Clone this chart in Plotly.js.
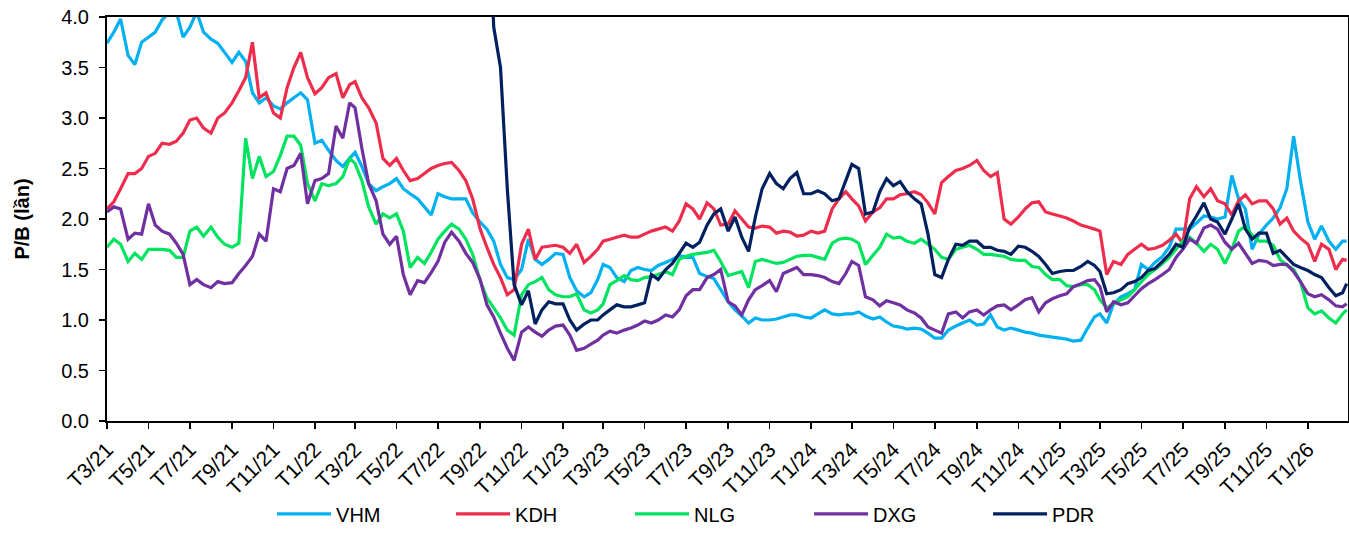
<!DOCTYPE html>
<html>
<head>
<meta charset="utf-8">
<script src="https://cdn.plot.ly/plotly-3.0.1.min.js"></script>
<style>html,body{margin:0;padding:0;background:#fff;}#chart{width:1349px;height:534px;}</style>
</head>
<body>
<div id="chart"></div>
<script>
// Sampling grid: days 1, 11, 21 of each month, Mar 2021 .. Feb 2026, plus last date
const sampleDays = [1, 11, 21];
const firstMonth = [2021, 3];
const lastMonth = [2026, 2];
const lastDate = '2026-02-27';

const tickLabels = ['T3/21','T5/21','T7/21','T9/21','T11/21','T1/22','T3/22','T5/22','T7/22','T9/22','T11/22',
  'T1/23','T3/23','T5/23','T7/23','T9/23','T11/23','T1/24','T3/24','T5/24','T7/24','T9/24','T11/24',
  'T1/25','T3/25','T5/25','T7/25','T9/25','T11/25','T1/26'];

const seriesNames = ['VHM', 'KDH', 'NLG', 'DXG', 'PDR'];
const seriesColors = ['#00B0F0', '#EE2D4D', '#00E35F', '#7030A0', '#002060'];

const VHM = [
  3.74,3.85,3.98, 3.62,3.53,3.75, 3.8,3.85,3.97, 4.05,4.05,3.8, 3.9,4.05,3.85, 3.78,3.74,3.65, 3.55,3.65,3.56, 3.25,3.15,3.2, 3.12,3.09,3.15, 3.2,3.25,3.18,
  2.75,2.78,2.68, 2.58,2.52,2.6, 2.66,2.52,2.35, 2.28,2.32,2.35, 2.4,2.3,2.25, 2.2,2.12,2.04, 2.25,2.22,2.2, 2.2,2.2,2.06, 1.97,1.9,1.78, 1.55,1.42,1.4, 1.5,1.8,1.6, 1.55,1.6,1.66,
  1.65,1.42,1.29, 1.23,1.27,1.4, 1.55,1.52,1.42, 1.38,1.49,1.52, 1.5,1.49,1.54, 1.57,1.6,1.64, 1.62,1.62,1.46, 1.43,1.41,1.3, 1.18,1.1,1.04, 0.97,1.02,1.0, 1.0,1.01,1.03, 1.05,1.05,1.03,
  1.02,1.06,1.1, 1.06,1.05,1.06, 1.06,1.08,1.04, 1.01,1.03,0.98, 0.94,0.93,0.91, 0.92,0.91,0.87, 0.82,0.82,0.9, 0.94,0.97,1.0, 0.95,0.96,1.05, 0.93,0.9,0.92, 0.9,0.88,0.87, 0.85,0.84,0.83,
  0.82,0.81,0.79, 0.8,0.92,1.03, 1.06,0.97,1.16, 1.23,1.26,1.3, 1.55,1.5,1.57, 1.63,1.72,1.9, 1.9,1.9,1.96, 2.03,2.02,2.0, 2.02,2.43,2.2, 2.1,1.7,1.85, 1.94,2.01,2.11, 2.3,2.82,2.38,
  1.97,1.8,1.93, 1.78,1.7,1.78, 1.78
];

const KDH = [
  2.1,2.17,2.3, 2.45,2.45,2.5, 2.62,2.65,2.75, 2.74,2.77,2.85, 2.98,3.0,2.9, 2.85,3.0,3.05, 3.15,3.27,3.4, 3.75,3.2,3.25, 3.05,3.0,3.3, 3.5,3.65,3.4,
  3.24,3.3,3.4, 3.44,3.2,3.33, 3.36,3.2,3.1, 2.95,2.6,2.53, 2.6,2.48,2.38, 2.4,2.45,2.5, 2.53,2.55,2.56, 2.48,2.38,2.2, 1.9,1.72,1.55, 1.42,1.25,1.3, 1.75,1.9,1.6, 1.72,1.73,1.74,
  1.72,1.66,1.75, 1.57,1.63,1.7, 1.78,1.8,1.82, 1.84,1.82,1.82, 1.85,1.88,1.9, 1.92,1.88,1.98, 2.15,2.1,2.0, 2.16,2.1,1.94, 1.95,2.08,2.0, 1.92,1.91,1.93, 1.92,1.86,1.88, 1.87,1.83,1.84,
  1.88,1.86,1.88, 2.1,2.2,2.27, 2.2,2.13,1.98, 2.07,2.11,2.2, 2.2,2.24,2.25, 2.27,2.24,2.16, 2.05,2.36,2.42, 2.48,2.5,2.53, 2.58,2.48,2.42, 2.46,2.0,1.95, 2.02,2.1,2.16, 2.17,2.07,2.05,
  2.03,2.01,1.98, 1.94,1.92,1.9, 1.88,1.45,1.58, 1.55,1.65,1.7, 1.75,1.7,1.71, 1.74,1.79,1.85, 1.76,2.2,2.32, 2.22,2.3,2.18, 2.15,2.04,2.18, 2.24,2.15,2.18, 2.18,2.1,1.95, 2.01,1.88,1.81,
  1.75,1.58,1.75, 1.7,1.5,1.6, 1.59
];

const NLG = [
  1.72,1.8,1.75, 1.58,1.66,1.6, 1.7,1.7,1.7, 1.69,1.62,1.62, 1.88,1.92,1.83, 1.92,1.82,1.75, 1.72,1.76,2.8, 2.4,2.62,2.42, 2.47,2.63,2.82, 2.82,2.73,2.35,
  2.18,2.35,2.33, 2.35,2.42,2.6, 2.55,2.38,2.12, 1.95,2.05,2.01, 2.05,1.88,1.52, 1.62,1.56,1.67, 1.8,1.88,1.95, 1.9,1.8,1.65, 1.39,1.22,1.12, 1.02,0.9,0.85, 1.25,1.35,1.38, 1.42,1.3,1.25,
  1.23,1.23,1.26, 1.1,1.07,1.1, 1.16,1.35,1.39, 1.44,1.4,1.39, 1.42,1.43,1.45, 1.48,1.45,1.6, 1.63,1.65,1.66, 1.67,1.69,1.58, 1.44,1.46,1.48, 1.32,1.58,1.6, 1.58,1.56,1.57, 1.6,1.63,1.64,
  1.64,1.62,1.6, 1.76,1.8,1.81, 1.8,1.76,1.55, 1.64,1.72,1.85, 1.81,1.82,1.78, 1.76,1.8,1.75, 1.7,1.62,1.6, 1.7,1.72,1.74, 1.7,1.65,1.65, 1.64,1.63,1.6, 1.59,1.59,1.53, 1.52,1.45,1.4,
  1.4,1.34,1.33, 1.35,1.35,1.3, 1.2,1.12,1.16, 1.2,1.23,1.3, 1.38,1.45,1.5, 1.56,1.62,1.7, 1.78,1.82,1.76, 1.68,1.75,1.7, 1.56,1.7,1.88, 1.93,1.84,1.78, 1.78,1.74,1.6, 1.54,1.5,1.38,
  1.12,1.06,1.09, 1.02,0.97,1.06, 1.1
];

const DXG = [
  2.07,2.12,2.1, 1.8,1.86,1.85, 2.15,1.94,1.88, 1.85,1.76,1.65, 1.35,1.4,1.35, 1.32,1.38,1.36, 1.37,1.46,1.54, 1.63,1.85,1.78, 2.3,2.27,2.5, 2.53,2.65,2.15,
  2.38,2.4,2.45, 2.92,2.8,3.15, 3.1,2.7,2.35, 2.18,1.85,1.75, 1.83,1.45,1.25, 1.39,1.37,1.47, 1.58,1.77,1.87, 1.78,1.66,1.57, 1.4,1.15,1.03, 0.87,0.72,0.6, 0.88,0.93,0.88, 0.84,0.9,0.94,
  0.95,0.85,0.7, 0.72,0.76,0.8, 0.85,0.89,0.87, 0.9,0.92,0.95, 0.99,0.97,1.0, 1.05,1.03,1.1, 1.24,1.3,1.3, 1.42,1.45,1.5, 1.18,1.14,1.05, 1.2,1.3,1.34, 1.39,1.28,1.46, 1.49,1.52,1.45,
  1.45,1.44,1.42, 1.38,1.36,1.46, 1.58,1.54,1.23, 1.2,1.14,1.19, 1.17,1.15,1.1, 1.07,1.02,0.93, 0.9,0.87,1.06, 1.08,1.02,1.08, 1.1,1.05,1.1, 1.14,1.15,1.1, 1.15,1.2,1.22, 1.08,1.17,1.21,
  1.24,1.26,1.33, 1.36,1.39,1.4, 1.33,1.08,1.18, 1.15,1.17,1.24, 1.31,1.36,1.4, 1.45,1.5,1.62, 1.7,1.8,1.76, 1.91,1.94,1.9, 1.77,1.7,1.76, 1.66,1.56,1.59, 1.58,1.54,1.55, 1.55,1.48,1.38,
  1.26,1.23,1.25, 1.2,1.14,1.13, 1.16
];

// PDR is above the axis range before Sep 2022; values start at 2022-09-11
const PDR_START_INDEX = 55;
const PDR_VALUES = [
  5.5,3.9,
  3.5,2.3,1.35, 1.15,1.29,0.96, 1.1,1.18,1.16,
  1.16,1.0,0.9, 0.96,1.0,1.0, 1.05,1.1,1.15, 1.13,1.13,1.15, 1.17,1.45,1.4, 1.5,1.56,1.66, 1.76,1.72,1.77, 1.94,2.05,2.1, 1.88,2.02,1.82, 1.68,2.02,2.3, 2.45,2.35,2.3, 2.4,2.46,2.25,
  2.25,2.28,2.25, 2.18,2.2,2.38, 2.54,2.5,2.05, 2.07,2.27,2.4, 2.33,2.37,2.27, 2.2,2.15,1.85, 1.45,1.42,1.6, 1.75,1.74,1.78, 1.78,1.72,1.72, 1.69,1.68,1.65, 1.73,1.72,1.68, 1.63,1.55,1.46,
  1.48,1.49,1.49, 1.53,1.58,1.54, 1.48,1.26,1.27, 1.3,1.36,1.38, 1.42,1.49,1.51, 1.58,1.65,1.75, 1.72,1.92,2.03, 2.16,2.0,1.97, 1.85,2.0,2.15, 1.9,1.8,1.86, 1.86,1.66,1.69, 1.62,1.55,1.52,
  1.49,1.45,1.42, 1.32,1.24,1.27, 1.36
];

// Build the date grid
const dates = [];
{
  let y = firstMonth[0], m = firstMonth[1];
  while (y < lastMonth[0] || (y === lastMonth[0] && m <= lastMonth[1])) {
    for (const d of sampleDays) {
      dates.push(y + '-' + String(m).padStart(2, '0') + '-' + String(d).padStart(2, '0'));
    }
    m++; if (m > 12) { m = 1; y++; }
  }
  dates.push(lastDate);
}
const PDR = new Array(PDR_START_INDEX).fill(null).concat(PDR_VALUES);

const tickVals = tickLabels.map(function (t) {
  const parts = t.slice(1).split('/');
  return '20' + parts[1] + '-' + String(parts[0]).padStart(2, '0') + '-01';
});

const allSeries = [VHM, KDH, NLG, DXG, PDR];
const traces = allSeries.map(function (vals, i) {
  return {
    type: 'scatter', mode: 'lines', name: seriesNames[i],
    x: dates, y: vals, connectgaps: false,
    line: { color: seriesColors[i], width: 3.2, simplify: false },
    hoverinfo: 'x+y+name'
  };
});

const FONT = 'Arial, "Liberation Sans", sans-serif';
const layout = {
  width: 1349, height: 534,
  margin: { l: 107, r: 1, t: 17, b: 108, pad: 0 },
  paper_bgcolor: '#ffffff', plot_bgcolor: '#ffffff',
  font: { family: FONT, color: '#000000', size: 20 },
  showlegend: true,
  legend: {
    orientation: 'h', x: 0.133, xanchor: 'left', y: -0.23, yanchor: 'middle',
    font: { family: FONT, size: 20, color: '#000' },
    itemwidth: 54, entrywidth: 110, entrywidthmode: 'pixels',
    bgcolor: 'rgba(0,0,0,0)', traceorder: 'normal'
  },
  xaxis: {
    type: 'date', range: ['2021-03-01', '2026-03-01'],
    tickmode: 'array', tickvals: tickVals, ticktext: tickLabels,
    tickangle: -45, ticks: 'outside', ticklen: 6, tickwidth: 1.5, tickcolor: '#000',
    tickfont: { family: FONT, size: 21, color: '#000' },
    showline: true, linecolor: '#000', linewidth: 2, mirror: true,
    showgrid: false, zeroline: false, automargin: false
  },
  yaxis: {
    range: [0, 4], tickmode: 'linear', tick0: 0, dtick: 0.5, tickformat: '.1f',
    ticks: 'outside', ticklen: 6, tickwidth: 1.5, tickcolor: '#000',
    tickfont: { family: FONT, size: 20, color: '#000' },
    ticklabelstandoff: 6,
    showline: true, linecolor: '#000', linewidth: 2, mirror: true,
    showgrid: false, zeroline: false, automargin: false,
    title: { text: 'P/B (lần)', font: { family: FONT, size: 20, color: '#000', weight: 'bold' }, standoff: 26 }
  }
};

Plotly.newPlot('chart', traces, layout, { displayModeBar: false, staticPlot: true });
</script>
</body>
</html>
